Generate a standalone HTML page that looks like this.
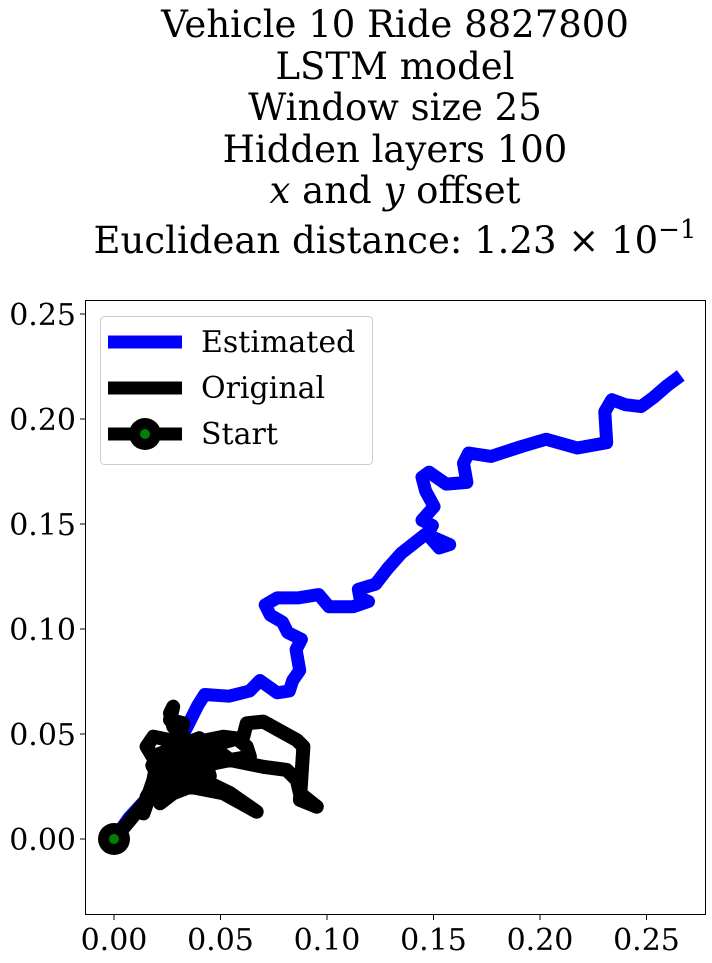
<!DOCTYPE html>
<html><head><meta charset="utf-8">
<style>
html,body{margin:0;padding:0;background:#fff;}
svg{display:block;font-family:"DejaVu Serif","Liberation Serif",serif;}
</style></head>
<body>
<svg id="chart" width="712" height="963" viewBox="0 0 712 963" xmlns="http://www.w3.org/2000/svg">
  <g font-size="37" text-anchor="middle" fill="#000">
    <text x="395" y="37">Vehicle 10 Ride 8827800</text>
    <text x="395" y="79">LSTM model</text>
    <text x="395" y="120">Window size 25</text>
    <text x="395" y="162">Hidden layers 100</text>
    <text x="395" y="203"><tspan font-style="italic">x</tspan> and <tspan font-style="italic">y</tspan> offset</text>
    <text x="395" y="253">Euclidean distance: 1.23 × 10<tspan font-size="26" dy="-15">−1</tspan></text>
  </g>
  <g id="plot"></g>
  <rect x="85.5" y="300.5" width="620" height="614" fill="none" stroke="#000" stroke-width="1"/>
  <g>
    <rect x="100.5" y="316.5" width="272" height="148" rx="4" fill="#fff" fill-opacity="0.8" stroke="#ccc"/>
    <g>
      <line x1="108" y1="342" x2="182" y2="342" stroke="#0000ff" stroke-width="13"/>
      <text x="201" y="352" font-size="30">Estimated</text>
    </g>
    <g>
      <line x1="108" y1="388" x2="182" y2="388" stroke="#000" stroke-width="13"/>
      <text x="201" y="398" font-size="30">Original</text>
    </g>
    <g>
      <line x1="108" y1="434" x2="182" y2="434" stroke="#000" stroke-width="13"/>
      <circle cx="145" cy="434" r="16" fill="#000"/>
      <circle cx="145" cy="434" r="5" fill="green"/>
      <text x="201" y="444" font-size="30">Start</text>
    </g>
  </g>
</svg>
<script>
const xTicks = [0.00, 0.05, 0.10, 0.15, 0.20, 0.25];
const yTicks = [0.00, 0.05, 0.10, 0.15, 0.20, 0.25];
const xTickLabels = ["0.00","0.05","0.10","0.15","0.20","0.25"];
const yTickLabels = ["0.00","0.05","0.10","0.15","0.20","0.25"];
const estX = [0,0.007,0.016,0.025,0.030,0.0346,0.0394,0.0426,0.0540,0.0637,0.0685,0.0766,0.0823,0.0839,0.0872,0.0855,0.0880,0.0815,0.0791,0.0734,0.0710,0.0766,0.0863,0.0961,0.1009,0.1123,0.1195,0.1155,0.1147,0.1228,0.1285,0.1349,0.1463,0.1576,0.1527,0.1470,0.1495,0.1446,0.1503,0.1463,0.1446,0.1479,0.1560,0.1657,0.1641,0.1665,0.1770,0.1916,0.2029,0.2175,0.2313,0.2304,0.2337,0.2401,0.2474,0.2531,0.2596,0.2661];
const estY = [0,0.010,0.020,0.035,0.045,0.054,0.0637,0.0688,0.0680,0.0705,0.0755,0.0696,0.0705,0.0755,0.0803,0.0902,0.0951,0.0984,0.1033,0.1066,0.1115,0.1148,0.1148,0.1164,0.1106,0.1106,0.1131,0.1148,0.1189,0.1214,0.1288,0.1361,0.1452,0.1402,0.1386,0.1452,0.1493,0.1518,0.1583,0.1657,0.1723,0.1747,0.1690,0.1698,0.1789,0.1838,0.1822,0.1870,0.1904,0.1862,0.1887,0.2035,0.2092,0.2068,0.2059,0.2101,0.2158,0.2207];
const origX = [0,0.0075,0.0153,0.0185,0.0200,0.0153,0.0185,0.0263,0.0357,0.0435,0.0513,0.0576,0.0623,0.0638,0.0545,0.0482,0.0435,0.0419,0.0545,0.0670,0.0513,0.0357,0.0278,0.0216,0.0200,0.0247,0.0388,0.0545,0.0701,0.0811,0.0858,0.0873,0.0952,0.0873,0.0889,0.0858,0.0701,0.0623,0.0607,0.0498,0.0357,0.0278,0.0263,0.0278,0.0263,0.0325,0.0310,0.0232,0.0200,0.0153,0.0138,0.0200,0.0350,0.0450,0.0300,0.0200,0.0400,0.0450,0.0250,0.0180,0.0300,0.0400,0.0220,0.0330,0.0460,0.0280,0.0190,0.0360,0.0300,0.0240,0.0380];
const origY = [0,0.009,0.0186,0.0281,0.0360,0.0440,0.0487,0.0471,0.0456,0.0471,0.0487,0.0479,0.0440,0.0392,0.0376,0.0424,0.0344,0.0281,0.0218,0.0130,0.0218,0.0249,0.0218,0.0170,0.0233,0.0313,0.0344,0.0376,0.0344,0.0329,0.0281,0.0218,0.0154,0.0186,0.0440,0.0471,0.0559,0.0551,0.0487,0.0456,0.0456,0.0535,0.0599,0.0630,0.0567,0.0551,0.0487,0.0408,0.0281,0.0201,0.0122,0.0300,0.0450,0.0350,0.0250,0.0400,0.0480,0.0300,0.0220,0.0350,0.0420,0.0380,0.0300,0.0460,0.0400,0.0330,0.0380,0.0280,0.0420,0.0250,0.0320];
const startPt = [0, 0];

const NS = "http://www.w3.org/2000/svg";
const sx = v => 114 + v * 2130;
const sy = v => 839 - v * 2100;
const svg = document.getElementById('chart');
const plot = document.getElementById('plot');
function mk(tag, attrs, parent) {
  const e = document.createElementNS(NS, tag);
  for (const k in attrs) e.setAttribute(k, attrs[k]);
  parent.appendChild(e);
  return e;
}
function pts(xs, ys) { return xs.map((x, i) => sx(x).toFixed(1) + ',' + sy(ys[i]).toFixed(1)).join(' '); }

const est = mk('polyline', {points: pts(estX, estY), fill: 'none', stroke: '#0000ff', 'stroke-width': 13, 'stroke-linejoin': 'round', 'stroke-linecap': 'butt'}, plot);


const orig = mk('polyline', {points: pts(origX, origY), fill: 'none', stroke: '#000', 'stroke-width': 14, 'stroke-linejoin': 'round', 'stroke-linecap': 'round'}, plot);


const so = mk('circle', {cx: sx(startPt[0]), cy: sy(startPt[1]), r: 16, fill: '#000'}, plot);


const si = mk('circle', {cx: sx(startPt[0]), cy: sy(startPt[1]), r: 5, fill: 'green'}, plot);



xTicks.forEach((t, i) => {
  const x = sx(t);
  const tk = mk('line', {x1: x, x2: x, y1: 915, y2: 920, stroke: '#000', 'stroke-width': 1}, svg);
  
  
  const lb = mk('text', {x: x, y: 950, 'font-size': 30, 'text-anchor': 'middle'}, svg);
  lb.textContent = xTickLabels[i];
  
  
});
yTicks.forEach((t, i) => {
  const y = sy(t);
  const tk = mk('line', {x1: 80, x2: 85, y1: y, y2: y, stroke: '#000', 'stroke-width': 1}, svg);
  
  
  const lb = mk('text', {x: 76, y: y + 11, 'font-size': 30, 'text-anchor': 'end'}, svg);
  lb.textContent = yTickLabels[i];
  
  
});
</script>
</body></html>
